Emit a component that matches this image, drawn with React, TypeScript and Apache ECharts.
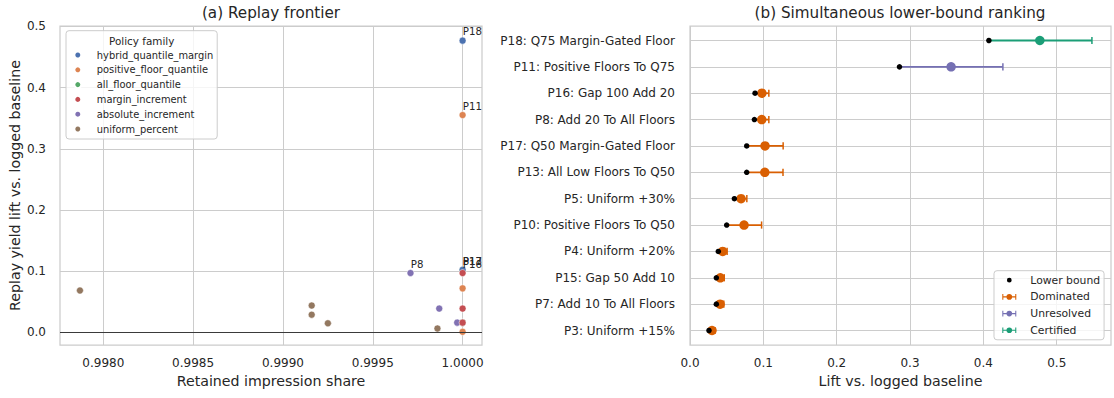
import React, { useEffect, useRef } from "react";
import * as echarts from "echarts";

// ---------- Left panel data: replay frontier ----------
const familyNames = [
  "hybrid_quantile_margin",
  "positive_floor_quantile",
  "all_floor_quantile",
  "margin_increment",
  "absolute_increment",
  "uniform_percent",
];
const familyColors = ["#4c72b0", "#dd8452", "#55a868", "#c44e52", "#8172b3", "#937860"];
// draw order (later = on top)
const familyDrawOrder = [2, 0, 1, 4, 5, 3];

const policyIds = ["P1", "P2", "P3", "P4", "P5", "P6", "P7", "P8", "P9", "P10", "P11", "P12", "P13", "P14", "P15", "P16", "P17", "P18"];
const policyFamily = [5, 5, 5, 5, 5, 4, 4, 4, 1, 1, 1, 2, 2, 3, 3, 3, 0, 0];
const retainedShare = [0.99986, 0.99925, 0.99916, 0.99916, 0.99787, 0.99997, 0.99987, 0.99971, 1.0, 1.0, 1.0, 1.0, 1.0, 1.0, 1.0, 1.0, 1.0, 1.0];
const replayLift = [0.0065, 0.015, 0.029, 0.044, 0.0686, 0.016, 0.039, 0.097, 0.001, 0.072, 0.355, 0.016, 0.102, 0.016, 0.039, 0.097, 0.1023, 0.4766];
const labeledIds = ["P18", "P11", "P17", "P13", "P16", "P8"];

const leftXTicks = [0.998, 0.9985, 0.999, 0.9995, 1.0];
const leftYTicks = [0, 0.1, 0.2, 0.3, 0.4, 0.5];

// ---------- Right panel data: lower-bound ranking ----------
const rankLabels = [
  "P18: Q75 Margin-Gated Floor",
  "P11: Positive Floors To Q75",
  "P16: Gap 100 Add 20",
  "P8: Add 20 To All Floors",
  "P17: Q50 Margin-Gated Floor",
  "P13: All Low Floors To Q50",
  "P5: Uniform +30%",
  "P10: Positive Floors To Q50",
  "P4: Uniform +20%",
  "P15: Gap 50 Add 10",
  "P7: Add 10 To All Floors",
  "P3: Uniform +15%",
];
const lowerBound = [0.4075, 0.2856, 0.0887, 0.0878, 0.0773, 0.0773, 0.0605, 0.05, 0.0386, 0.0359, 0.0359, 0.0259];
const estimate = [0.477, 0.356, 0.098, 0.0978, 0.1023, 0.102, 0.0696, 0.0737, 0.0446, 0.0413, 0.041, 0.03];
const upperBound = [0.548, 0.4266, 0.1075, 0.1075, 0.127, 0.1268, 0.0775, 0.0976, 0.0506, 0.0467, 0.0461, 0.0341];
const statusNames = ["Dominated", "Unresolved", "Certified"];
const statusColors = ["#d95f02", "#7570b3", "#1b9e77"];
const rankStatus = [2, 1, 0, 0, 0, 0, 0, 0, 0, 0, 0, 0];
const rightXTicks = [0, 0.1, 0.2, 0.3, 0.4, 0.5];

const FONT = "DejaVu Sans";
const TXT = "#262626";
const GRIDC = "#cccccc";

const errIcon =
  "path://M0,1 H1.5 V9 H0 Z M1.5,4.2 H6.2 V5.8 H1.5 Z M13.8,4.2 H18.5 V5.8 H13.8 Z M18.5,1 H20 V9 H18.5 Z M14,5 A4,4 0 1 1 6,5 A4,4 0 1 1 14,5 Z";
const dotIcon = "path://M0,0 M20,10 M13.4,5 A3.4,3.4 0 1 1 6.6,5 A3.4,3.4 0 1 1 13.4,5 Z";

export default function App() {
  const ref = useRef<HTMLDivElement>(null);
  useEffect(() => {
    if (!ref.current) return;
    const chart = echarts.init(ref.current, undefined, { renderer: "svg" });

    const leftSeries: any[] = familyDrawOrder.map((f) => {
      const data: any[] = [];
      policyIds.forEach((id, i) => {
        if (policyFamily[i] !== f) return;
        data.push({
          name: id,
          value: [retainedShare[i], replayLift[i]],
          label: { show: labeledIds.includes(id) },
        });
      });
      return {
        name: familyNames[f],
        type: "scatter",
        xAxisIndex: 0,
        yAxisIndex: 0,
        symbolSize: 7,
        itemStyle: { color: familyColors[f], borderColor: "#ffffff", borderWidth: 0.5, opacity: 1 },
        label: {
          show: false,
          position: [4, 0],
          verticalAlign: "bottom",
          align: "left",
          formatter: (p: any) => p.name,
          fontFamily: FONT,
          fontSize: 10.2,
          color: TXT,
        },
        data,
      };
    });
    leftSeries[0].markLine = {
      silent: true,
      symbol: "none",
      label: { show: false },
      lineStyle: { color: "#3a3a3a", width: 1.2, type: "solid" },
      data: [{ yAxis: 0 }],
    };

    const errData = rankLabels.map((_, i) => [lowerBound[i], i, upperBound[i], rankStatus[i]]);

    const rightSeries: any[] = [
      {
        type: "custom",
        name: "errorbars",
        xAxisIndex: 1,
        yAxisIndex: 1,
        encode: { x: [0, 2], y: 1 },
        data: errData,
        renderItem: (params: any, api: any) => {
          const lo = api.value(0);
          const yi = api.value(1);
          const hi = api.value(2);
          const s = api.value(3);
          const c = statusColors[s];
          const p1 = api.coord([lo, yi]);
          const p2 = api.coord([hi, yi]);
          return {
            type: "group",
            children: [
              { type: "line", shape: { x1: p1[0], y1: p1[1], x2: p2[0], y2: p2[1] }, style: { stroke: c, lineWidth: 1.8 } },
              { type: "line", shape: { x1: p2[0], y1: p2[1] - 3.6, x2: p2[0], y2: p2[1] + 3.6 }, style: { stroke: c, lineWidth: 1.5 } },
            ],
          };
        },
      },
      ...statusNames.map((sn, s) => ({
        name: sn,
        type: "scatter",
        xAxisIndex: 1,
        yAxisIndex: 1,
        symbolSize: 9.5,
        itemStyle: { color: statusColors[s], opacity: 1 },
        data: rankLabels.map((_, i) => (rankStatus[i] === s ? [estimate[i], i] : null)).filter((d) => d !== null),
      })),
      {
        name: "Lower bound",
        type: "scatter",
        xAxisIndex: 1,
        yAxisIndex: 1,
        symbolSize: 5.5,
        z: 5,
        itemStyle: { color: "#000000", opacity: 1 },
        data: rankLabels.map((_, i) => [lowerBound[i], i]),
      },
    ];

    const axisNameStyle = { fontFamily: FONT, fontSize: 14.2, color: TXT };
    const tickLabel = { fontFamily: FONT, fontSize: 12, color: TXT };

    const option: any = {
      animation: false,
      backgroundColor: "#ffffff",
      textStyle: { fontFamily: FONT },
      grid: [
        { left: 60, top: 26, width: 422, height: 319, show: true, borderColor: GRIDC, borderWidth: 1.25, backgroundColor: "transparent" },
        { left: 690, top: 26, width: 421, height: 319, show: true, borderColor: GRIDC, borderWidth: 1.25, backgroundColor: "transparent" },
      ],
      xAxis: [
        {
          gridIndex: 0,
          type: "value",
          min: 0.997759,
          max: 1.000108,
          axisLine: { show: false },
          axisTick: { show: false, customValues: leftXTicks },
          axisLabel: { ...tickLabel, customValues: leftXTicks, margin: 12, formatter: (v: number) => v.toFixed(4) },
          splitLine: { show: true, lineStyle: { color: GRIDC, width: 1 } },
          name: "Retained impression share",
          nameLocation: "middle",
          nameGap: 29,
          nameTextStyle: axisNameStyle,
        },
        {
          gridIndex: 1,
          type: "value",
          min: 0,
          max: 0.574,
          axisLine: { show: false },
          axisTick: { show: false, customValues: rightXTicks },
          axisLabel: { ...tickLabel, customValues: rightXTicks, margin: 12, formatter: (v: number) => v.toFixed(1) },
          splitLine: { show: true, lineStyle: { color: GRIDC, width: 1 } },
          name: "Lift vs. logged baseline",
          nameLocation: "middle",
          nameGap: 29,
          nameTextStyle: axisNameStyle,
        },
      ],
      yAxis: [
        {
          gridIndex: 0,
          type: "value",
          min: -0.0205,
          max: 0.5005,
          axisLine: { show: false },
          axisTick: { show: false, customValues: leftYTicks },
          axisLabel: { ...tickLabel, customValues: leftYTicks, margin: 14, formatter: (v: number) => v.toFixed(1) },
          splitLine: { show: true, lineStyle: { color: GRIDC, width: 1 } },
          name: "Replay yield lift vs. logged baseline",
          nameLocation: "middle",
          nameGap: 38,
          nameTextStyle: axisNameStyle,
        },
        {
          gridIndex: 1,
          type: "value",
          inverse: true,
          min: -0.55,
          max: 11.55,
          axisLine: { show: false },
          axisTick: { show: false, customValues: rankLabels.map((_, i) => i) },
          axisLabel: {
            ...tickLabel,
            customValues: rankLabels.map((_, i) => i),
            margin: 15,
            formatter: (v: number) => rankLabels[Math.round(v)] ?? "",
          },
          splitLine: { show: true, lineStyle: { color: GRIDC, width: 1 } },
        },
      ],
      legend: [
        {
          data: familyNames,
          orient: "vertical",
          left: 66,
          top: 30.7,
          icon: "circle",
          itemWidth: 10,
          itemHeight: 7,
          itemGap: 2.8,
          padding: [18.3, 4, 4, 7.3],
          backgroundColor: "rgba(255,255,255,0.8)",
          borderColor: GRIDC,
          borderWidth: 1,
          borderRadius: 3,
          selectedMode: false,
          textStyle: { fontFamily: FONT, fontSize: 9.9, lineHeight: 12, color: TXT, padding: [0, 0, 0, 9] },
        },
        {
          data: [
            { name: "Lower bound", icon: dotIcon },
            { name: "Dominated", icon: errIcon },
            { name: "Unresolved", icon: errIcon },
            { name: "Certified", icon: errIcon },
          ],
          orient: "vertical",
          left: 994,
          top: 270.7,
          itemWidth: 14,
          itemHeight: 9,
          itemGap: 3.7,
          padding: [3, 4, 3, 8.3],
          backgroundColor: "rgba(255,255,255,0.8)",
          borderColor: GRIDC,
          borderWidth: 1,
          borderRadius: 3,
          selectedMode: false,
          textStyle: { fontFamily: FONT, fontSize: 10.8, lineHeight: 13, color: TXT, padding: [0, 0, 0, 9] },
        },
      ],
      graphic: [
        { type: "text", z: 100, x: 271, y: 12.5, style: { text: "(a) Replay frontier", fontFamily: FONT, fontSize: 15.2, fill: TXT, align: "center", verticalAlign: "middle" } },
        { type: "text", z: 100, x: 900, y: 12.5, style: { text: "(b) Simultaneous lower-bound ranking", fontFamily: FONT, fontSize: 15.2, fill: TXT, align: "center", verticalAlign: "middle" } },
        { type: "text", z: 100, x: 141.7, y: 40.5, style: { text: "Policy family", fontFamily: FONT, fontSize: 10.4, fill: TXT, align: "center", verticalAlign: "middle" } },
      ],
      series: [...leftSeries, ...rightSeries],
    };
    chart.setOption(option);
    return () => chart.dispose();
  }, []);

  return <div ref={ref} style={{ position: "absolute", left: 0, top: 0, width: 1114, height: 398 }} />;
}
